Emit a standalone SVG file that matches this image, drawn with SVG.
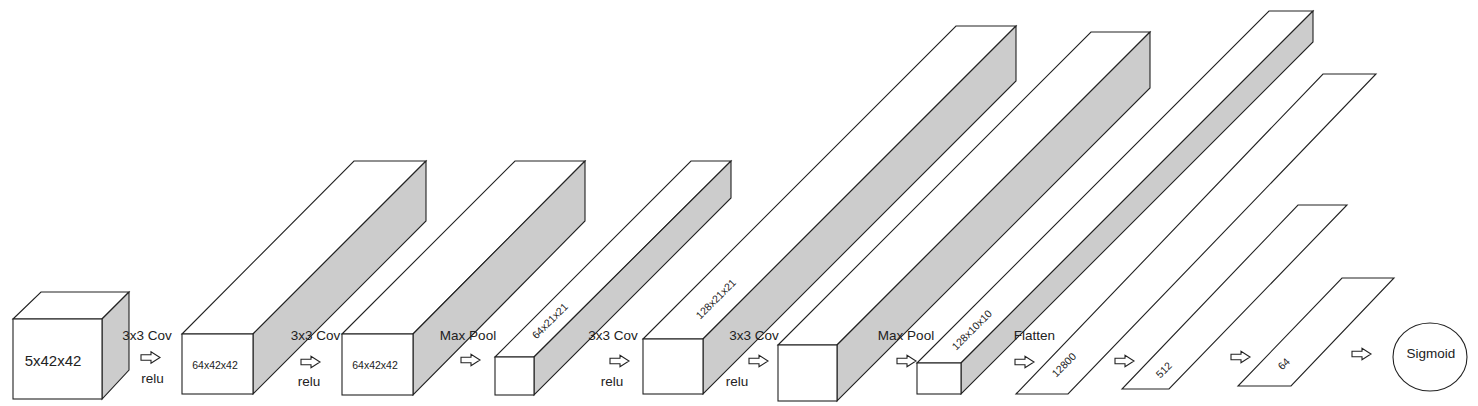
<svg xmlns="http://www.w3.org/2000/svg" xmlns:xlink="http://www.w3.org/1999/xlink" width="1478" height="406" viewBox="0 0 1478 406">
<style>
.face{fill:#ffffff;stroke:#222;stroke-width:1.1;stroke-linejoin:miter}
.side{fill:#cccccc;stroke:#222;stroke-width:1.1;stroke-linejoin:miter}
.lbl{font-family:"Liberation Sans",Arial,sans-serif;font-size:13.5px;fill:#222;text-anchor:middle}
.dim{font-family:"Liberation Sans",Arial,sans-serif;font-size:10.5px;fill:#222;text-anchor:middle}
.big{font-family:"Liberation Sans",Arial,sans-serif;font-size:15px;fill:#222;text-anchor:middle}
.arr{fill:#ffffff;stroke:#222;stroke-width:1.1}
</style>
<defs>
<path id="blockArrow" class="arr" d="M0,-2.8 H10 V-5.8 L19,0 L10,5.8 V2.8 H0 Z"/>
</defs>
<rect width="1478" height="406" fill="#ffffff"/>

<g id="input-5x42x42">
<polygon class="face" points="13,319 41,292 129,292 102,319"/>
<polygon class="side" points="102,319 129,292 129,370 102,399"/>
<rect class="face" x="13" y="319" width="89" height="80"/>
<text class="big" x="53" y="365.5">5x42x42</text>
</g>

<g id="conv1-64x42x42">
<polygon class="face" points="182,334 354,161 426,161 253,334"/>
<polygon class="side" points="253,334 426,161 426,221 253,394"/>
<rect class="face" x="182" y="334" width="71" height="60"/>
<text class="dim" x="215" y="369">64x42x42</text>
</g>

<g id="conv2-64x42x42">
<polygon class="face" points="342,334 515,161 585,161 413,334"/>
<polygon class="side" points="413,334 585,161 585,221 413,395"/>
<rect class="face" x="342" y="334" width="71" height="61"/>
<text class="dim" x="375" y="369">64x42x42</text>
</g>

<g id="pool1-64x21x21">
<polygon class="face" points="495,357 691,161 731,161 534,357"/>
<polygon class="side" points="534,357 731,161 731,198 534,395"/>
<rect class="face" x="495" y="357" width="39" height="38"/>
<text class="dim" transform="translate(550,321) rotate(-45)" y="3.5">64x21x21</text>
</g>

<g id="conv3-128x21x21">
<polygon class="face" points="643,339 956,26 1016,26 703,339"/>
<polygon class="side" points="703,339 1016,26 1016,81 703,394"/>
<rect class="face" x="643" y="339" width="60" height="55"/>
<text class="dim" transform="translate(716,299) rotate(-45)" y="3.5">128x21x21</text>
</g>

<g id="conv4-128x21x21">
<polygon class="face" points="778,345 1091,32 1150,32 837,345"/>
<polygon class="side" points="837,345 1150,32 1150,88 837,401"/>
<rect class="face" x="778" y="345" width="59" height="56"/>
</g>

<g id="pool2-128x10x10">
<polygon class="face" points="917,363 1269,11 1313,11 961,363"/>
<polygon class="side" points="961,363 1313,11 1313,42 961,394"/>
<rect class="face" x="917" y="363" width="44" height="31"/>
<text class="dim" transform="translate(972,330) rotate(-45)" y="3.5">128x10x10</text>
</g>

<g id="flatten-12800">
<polygon class="face" points="1016,394 1068,394 1376,74 1323,74"/>
<text class="dim" transform="translate(1064,365) rotate(-45)" y="3.5">12800</text>
</g>

<g id="fc-512">
<polygon class="face" points="1122,389 1169,389 1347,205 1298,205"/>
<text class="dim" transform="translate(1164,370) rotate(-45)" y="3.5">512</text>
</g>

<g id="fc-64">
<polygon class="face" points="1238,386 1291,386 1394,278 1342,278"/>
<text class="dim" transform="translate(1284,364) rotate(-45)" y="3.5">64</text>
</g>

<g id="sigmoid">
<ellipse class="face" cx="1430" cy="357" rx="37" ry="34"/>
<text class="lbl" x="1431" y="358">Sigmoid</text>
</g>

<g id="connectors">
<g id="c1"><text class="lbl" x="147" y="340">3x3 Cov</text><use xlink:href="#blockArrow" href="#blockArrow" transform="translate(141,357.5)"/><text class="lbl" x="152.5" y="383">relu</text></g>
<g id="c2"><text class="lbl" x="315.5" y="340">3x3 Cov</text><use xlink:href="#blockArrow" href="#blockArrow" transform="translate(301,362)"/><text class="lbl" x="309" y="386">relu</text></g>
<g id="c3"><text class="lbl" x="468" y="340">Max Pool</text><use xlink:href="#blockArrow" href="#blockArrow" transform="translate(461,360)"/></g>
<g id="c4"><text class="lbl" x="613" y="340">3x3 Cov</text><use xlink:href="#blockArrow" href="#blockArrow" transform="translate(610,361)"/><text class="lbl" x="612" y="386">relu</text></g>
<g id="c5"><text class="lbl" x="754" y="340">3x3 Cov</text><use xlink:href="#blockArrow" href="#blockArrow" transform="translate(749,361)"/><text class="lbl" x="737" y="386">relu</text></g>
<g id="c6"><text class="lbl" x="906" y="340">Max Pool</text><use xlink:href="#blockArrow" href="#blockArrow" transform="translate(897,361)"/></g>
<g id="c7"><text class="lbl" x="1034.5" y="340">Flatten</text><use xlink:href="#blockArrow" href="#blockArrow" transform="translate(1015,362)"/></g>
<g id="c8"><use xlink:href="#blockArrow" href="#blockArrow" transform="translate(1115,361)"/></g>
<g id="c9"><use xlink:href="#blockArrow" href="#blockArrow" transform="translate(1231,357)"/></g>
<g id="c10"><use xlink:href="#blockArrow" href="#blockArrow" transform="translate(1352,354)"/></g>
</g>
</svg>
